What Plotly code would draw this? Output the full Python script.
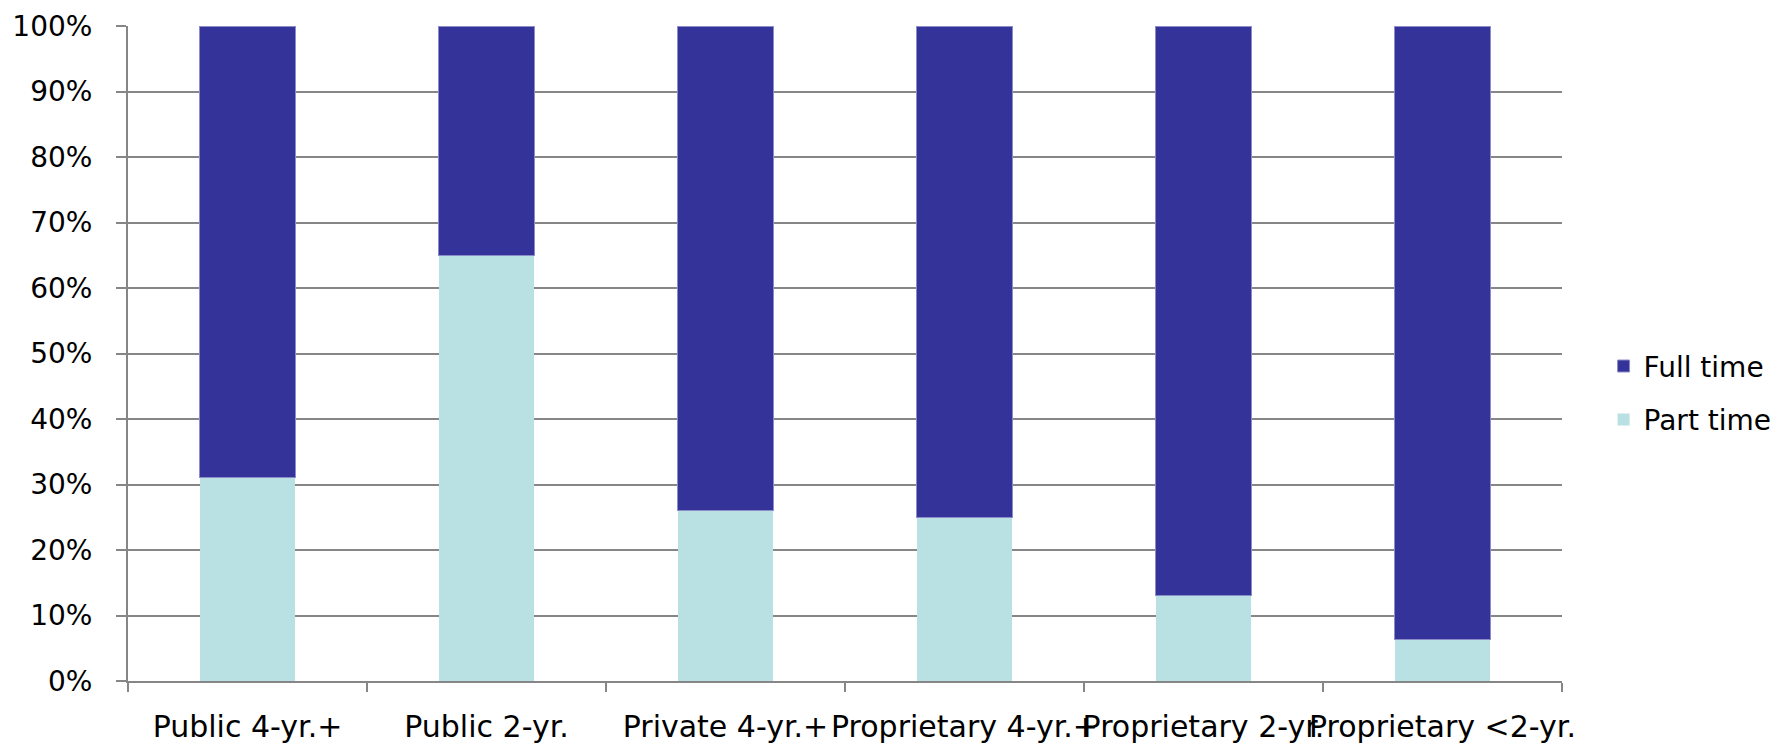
import plotly.graph_objects as go

categories = ["Public 4-yr.+", "Public 2-yr.", "Private 4-yr.+", "Proprietary 4-yr.+",
              "Proprietary 2-yr.", "Proprietary <2-yr."]
part_time = [0.31, 0.65, 0.26, 0.25, 0.13, 0.063]
full_time = [0.69, 0.35, 0.74, 0.75, 0.87, 0.937]

FONT = "DejaVu Sans"
fig = go.Figure()
fig.add_trace(go.Bar(x=categories, y=part_time, name="Part time",
                     marker=dict(color="#B9E0E3", line=dict(width=0)),
                     legendgroup="p", legendrank=2))
fig.add_trace(go.Bar(x=categories, y=full_time, name="Full time",
                     marker=dict(color="#333399", line=dict(color="#8c8cc8", width=1)),
                     legendgroup="f", legendrank=1))

fig.update_layout(
    width=1777, height=745,
    barmode="stack", bargap=0.6,
    paper_bgcolor="white", plot_bgcolor="white",
    margin=dict(l=128, r=215, t=26, b=64, autoexpand=False),
    font=dict(family=FONT, size=28, color="black"),
    legend=dict(x=1.029, y=0.44, xanchor="left", yanchor="middle",
                traceorder="grouped", tracegroupgap=14,
                font=dict(size=28), itemwidth=30),
    showlegend=True,
)
fig.update_xaxes(
    type="category", showline=True, linecolor="#868686", linewidth=2,
    ticks="outside", tickson="boundaries", ticklen=9, tickcolor="#868686", tickwidth=1.5,
    tickangle=0, ticklabelstandoff=18, showgrid=False, automargin=False,
    tickfont=dict(size=30),
)
fig.update_yaxes(
    range=[0, 1], tick0=0, dtick=0.1, tickformat=".0%",
    showline=True, linecolor="#868686", linewidth=2,
    ticks="outside", ticklen=10, tickcolor="#868686", tickwidth=1.5,
    showgrid=True, gridcolor="#868686", gridwidth=1.5,
    ticklabelstandoff=18, zeroline=False, automargin=False,
)

fig.write_html("out.html")
